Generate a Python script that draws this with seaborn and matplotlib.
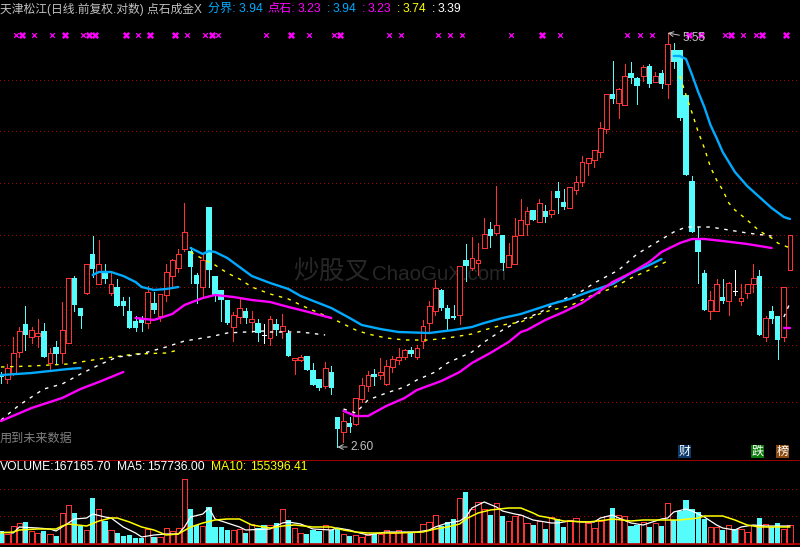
import matplotlib
matplotlib.use("Agg")
import matplotlib.pyplot as plt
from matplotlib.patches import Rectangle
import seaborn as sns
import pandas as pd
import numpy as np

# prices are read as levels on the log panel (no price axis is shown in the chart)
high = [88,96,123,133,154,133,141,137,112,119,158,182,184,152,196,224,220,196,187,181,
        163,163,144,144,174,168,166,196,201,211,257,213,187,207,253,184,170,160,148,162,
        152,149,141,136,144,141,146,130,102,105,104,97,81,98,94,43,47,43,62,82,
        89,91,102,100,104,112,111,113,115,140,159,180,171,155,155,194,216,223,217,242,
        238,274,225,217,242,261,253,250,261,255,269,278,271,273,284,304,302,310,338,366,
        399,372,396,398,383,395,396,388,390,427,417,410,365,284,233,190,169,181,181,178,
        190,176,176,196,190,144,154,144,173,225]
body_top = [85,92,107,129,136,130,127,129,107,113,130,182,182,152,196,206,196,187,176,173,
            159,149,139,141,168,157,166,188,200,206,228,209,185,200,253,184,170,160,145,152,
            149,141,137,125,141,136,134,127,102,103,104,90,81,92,88,43,39,37,62,75,
            85,86,88,94,101,103,110,110,112,134,154,172,170,152,144,194,200,202,200,226,
            231,235,225,205,224,240,249,250,257,249,250,269,258,273,278,298,302,310,332,366,
            366,371,384,387,382,393,394,384,387,416,410,410,365,279,220,187,160,176,163,177,
            169,162,176,182,184,142,149,144,173,225]
body_bottom = [83,81,86,108,125,123,124,103,97,106,107,117,155,144,167,191,176,181,167,154,
               154,132,132,137,137,150,144,165,184,192,211,193,176,173,190,165,160,137,133,143,
               142,138,127,125,122,130,129,104,100,100,90,75,72,74,72,31,28,33,36,61,
               74,83,85,76,93,100,103,106,103,119,137,149,152,141,142,145,194,192,197,212,
               224,227,197,193,196,225,236,240,238,243,246,262,253,252,270,278,297,300,308,331,
               361,357,355,382,374,384,376,378,376,376,398,342,285,228,208,150,149,149,159,159,
               169,159,167,176,125,123,141,120,123,190]
low = [77,77,85,103,110,117,113,103,90,97,97,117,149,132,166,183,176,177,165,154,
       145,132,129,129,132,147,139,159,172,188,209,177,157,163,173,159,139,136,119,137,
       137,128,119,117,115,125,122,104,86,99,90,75,70,72,66,13,18,28,35,58,
       69,75,81,75,88,96,101,104,101,112,129,145,150,131,141,136,179,190,185,212,
       213,225,190,193,196,225,225,240,238,238,243,247,251,252,266,274,285,293,303,327,
       357,342,355,377,356,379,373,378,372,362,392,340,285,228,177,150,141,149,157,145,
       165,155,162,168,125,119,137,101,119,190]
candle_kind = [
    'c','r','r','r','c','r','r','c','r','c','r','r','c','c','r','c','r','c','r','c',
    'c','c','c','c','r','c','r','r','r','r','r','c','c','r','c','c','c','c','r','r',
    'c','r','c','w','r','c','r','c','r','r','c','c','c','r','c','c','r','c','r','r',
    'r','c','r','r','r','r','r','c','r','r','r','r','c','c','c','r','c','r','r','r',
    'c','r','c','r','r','r','r','c','r','c','r','c','c','r','r','r','r','r','r','r',
    'c','r','r','c','c','r','c','r','c','r','c','c','c','c','c','c','r','r','c','r',
    'w','r','r','r','c','r','c','c','r','r']

volume = [13,10,18,21,22,13,11,13,10,8,31,39,31,18,14,46,35,23,14,11,
          8,9,6,6,15,7,7,16,13,16,65,35,19,18,37,17,17,14,14,15,
          11,20,16,19,19,21,35,24,16,11,10,14,13,19,14,16,10,8,9,7,
          9,10,10,14,11,14,12,12,12,20,22,29,18,22,25,46,52,35,42,35,
          29,41,28,23,28,29,21,19,23,15,27,25,17,24,26,23,21,16,23,28,
          36,29,28,18,19,22,17,21,18,41,24,33,44,35,32,25,17,17,14,19,
          15,15,12,19,26,20,17,21,15,19]

blue_a_i, blue_a = [0,5,11,13], [85,87,91,92]
blue_b_i = [15,16,18,20,22,23,25,27,29]
blue_b = [185,188,188,184,178,173,170,171,173]
blue_c_i = [31,33,34,35,37,39,41,44,47,49,54,57,59,62,65,70,74,77,79,82,85,88,90,93,96,100,103,106,108]
blue_c = [212,206,209,208,202,193,184,177,171,164,152,142,135,131,128,127,130,133,137,142,146,152,156,161,168,176,187,195,201]
blue_d_i = [110,111,112,113,114,115,116,117,118,119,120,122,124,126,128,129]
blue_d = [404,404,401,385,368,353,335,322,308,298,288,274,263,252,243,241]

yellow_a_i, yellow_a = [0,5,11,16,22,27,29], [93,94,96,101,106,107,110]
yellow_b_i = [31,33,35,37,39,41,44,47,49,52,55,58,60,63,66,70,73,77,79,82,85,88,90,93,96,100,103,106,109]
yellow_b = [208,201,195,187,181,173,166,161,155,147,139,130,126,122,120,120,122,126,130,135,138,146,150,154,163,172,182,190,199]
yellow_c_i = [111,112,113,114,115,116,117,118,119,120,122,124,126,127,129]
yellow_c = [384,365,347,328,312,293,280,270,257,250,240,229,222,217,212]

white_a_i = [0,3,7,10,13,16,19,22,24,27,30,34,37,40,43,44,49,53]
white_a = [40,55,71,76,86,95,103,105,108,113,119,123,127,128,129,128,128,125]
white_b_i = [56,58,60,63,66,68,71,73,77,79,82,85,88,91,95,97,101,104,107,110,112,116,119,122,126]
white_b = [51,47,60,67,73,80,88,97,108,118,130,140,147,158,169,177,190,206,217,228,233,233,230,227,224]
white_c_i, white_c = [128,129], [143,157]

magenta_a_i, magenta_a = [0,5,10,13,16,20], [39,52,62,71,78,88]
magenta_b_i = [22,25,28,30,33,35,38,41,44,47,49,54]
magenta_b = [142,140,146,155,162,165,163,160,158,153,150,142]
magenta_c_i = [56,58,60,63,66,68,72,75,77,80,83,85,86,89,92,95,97,100,103,106,108,111,113,115,118,122,126]
magenta_c = [49,44,44,54,62,70,79,88,97,107,118,128,130,140,148,157,165,178,187,198,208,217,221,221,219,216,212]
magenta_d_i, magenta_d = [128,129], [132,132]

ma5_i = [0,2,3,6,8,9,11,12,14,15,17,18,20,22,23,25,27,29,30,31,33,34,35,37,39,40,44,46,47,49,51,54,55,57,58,60,63,68,70,71,73,75,76,77,79,81,82,84,85,87,88,
         90,91,93,95,97,98,100,101,103,105,108,109,110,112,113,115,117,118,120,121,123,125,129]
ma5 = [12,11,17,16,15,13,21,25,26,30,27,26,17,11,7,9,10,10,17,27,30,36,25,21,17,14,15,21,22,20,15,14,16,14,12,9,12,12,14,17,21,23,27,36,42,37,33,30,29,24,23,
       21,21,23,22,22,26,29,26,21,19,25,26,32,35,33,27,19,16,14,17,19,18,18]
ma10_i = [0,2,3,6,9,10,11,14,16,18,19,21,23,25,27,29,31,33,35,37,39,41,44,46,48,51,54,56,58,60,65,69,71,73,75,76,78,80,83,85,87,88,
          89,92,96,99,100,103,105,108,109,111,114,115,118,120,122,124,129]
ma10 = [11,12,14,15,15,18,20,18,23,26,26,22,17,14,9,10,17,21,24,25,25,19,16,18,19,17,17,14,12,11,11,12,15,17,20,25,31,34,36,36,31,28,
        27,23,22,24,25,23,24,24,24,24,26,28,28,24,19,17,17]

signal_small = [2,5,8,13,22,30,33,35,43,50,54,63,65,71,73,75,83,91,102,104,106,118,121,123]
signal_big = [3,10,14,15,20,24,28,34,47,55,88,112,114,119,124,128]
signal_level = 425

grid_main = [380,329,277,225,173,115,58]
grid_vol = [55,28]

CYAN = '#54fcfc'
RED = '#ff3232'
BLUE = '#00aaff'
MAGENTA = '#ff00ff'
GREY = '#c0c0c0'
PX = 0.72

sns.set_theme(style="dark", rc={
    "axes.facecolor": "black", "figure.facecolor": "black", "savefig.facecolor": "black",
    "axes.edgecolor": "black", "axes.grid": False,
})
plt.rcParams['font.family'] = ['Liberation Sans', 'Noto Sans CJK SC', 'DejaVu Sans']

fig = plt.figure(figsize=(8, 5.47), dpi=100)
ax = fig.add_axes([0, 87 / 547, 1, 460 / 547])
vax = fig.add_axes([0, 0, 1, 87 / 547])

candles = pd.DataFrame({'i': np.arange(len(high)), 'high': high, 'top': body_top,
                        'bottom': body_bottom, 'low': low, 'kind': candle_kind})
volumes = pd.DataFrame({'i': np.arange(len(volume)), 'vol': volume, 'kind': candle_kind})

for level in grid_main:
    ax.axhline(level, color='#a00000', lw=PX, ls=(0, (1, 3)), antialiased=False, zorder=1)
for level in grid_vol:
    vax.axhline(level, color='#a00000', lw=PX, ls=(0, (1, 3)), antialiased=False, zorder=1)

# watermark sits behind the candles
ax.text(293 / 800, 1 - 273 / 547, "炒股叉", transform=fig.transFigure, color='#272727',
        fontsize=18.5, va='center', ha='left', zorder=0.5)
ax.text(372 / 800, 1 - 274 / 547, "ChaoGuX.com", transform=fig.transFigure, color='#272727',
        fontsize=14.8, va='center', ha='left', zorder=0.5)

# candles
for kind, color in [('c', CYAN), ('r', RED)]:
    sub = candles[candles['kind'] == kind]
    ax.vlines(sub['i'], sub['low'], sub['high'], color=color, lw=PX, antialiased=False, zorder=2)
    if kind == 'c':
        ax.bar(sub['i'], sub['top'] - sub['bottom'], bottom=sub['bottom'], width=0.9,
               color=color, linewidth=0, antialiased=False, zorder=3)
    else:
        ax.bar(sub['i'], sub['top'] - sub['bottom'], bottom=sub['bottom'], width=0.78,
               facecolor='black', edgecolor=color, linewidth=PX, antialiased=False, zorder=3)
doji = candles[candles['kind'] == 'w']
ax.vlines(doji['i'], doji['low'], doji['high'], color='white', lw=PX, antialiased=False, zorder=3)
ax.hlines(doji['top'], doji['i'] - 0.35, doji['i'] + 0.35, color='white', lw=PX, antialiased=False, zorder=3)

# moving average pieces
solid = dict(ax=ax, errorbar=None, legend=False, zorder=5, lw=1.7)
for xs, ys in [(blue_a_i, blue_a), (blue_b_i, blue_b), (blue_c_i, blue_c), (blue_d_i, blue_d)]:
    sns.lineplot(x=xs, y=ys, color=BLUE, **solid)
for xs, ys in [(magenta_a_i, magenta_a), (magenta_b_i, magenta_b), (magenta_c_i, magenta_c), (magenta_d_i, magenta_d)]:
    sns.lineplot(x=xs, y=ys, color=MAGENTA, **solid)
for xs, ys in [(yellow_a_i, yellow_a), (yellow_b_i, yellow_b), (yellow_c_i, yellow_c)]:
    sns.lineplot(x=xs, y=ys, color='#ffff00', ax=ax, errorbar=None, legend=False, zorder=4,
                 lw=1.0, linestyle=(0, (2.5, 4)))
for xs, ys in [(white_a_i, white_a), (white_b_i, white_b), (white_c_i, white_c)]:
    sns.lineplot(x=xs, y=ys, color='white', ax=ax, errorbar=None, legend=False, zorder=4,
                 lw=1.0, linestyle=(0, (2.5, 4)))

# signal row, glyphs sit a little right of their candle
sns.scatterplot(x=np.array(signal_small) + 0.4, y=[signal_level] * len(signal_small), ax=ax,
                marker='x', s=11, color=MAGENTA, linewidth=0.9, legend=False, zorder=6)
sns.scatterplot(x=np.array(signal_big) + 0.42, y=[signal_level] * len(signal_big), ax=ax,
                marker='X', s=26, color=MAGENTA, linewidth=0, legend=False, zorder=6)

ax.annotate("2.60", xy=(55, 13), xytext=(13, 0), textcoords='offset pixels', color=GREY,
            fontsize=8.6, va='center', ha='left', zorder=7,
            arrowprops=dict(arrowstyle='->', color=GREY, lw=PX, shrinkA=0, shrinkB=0))
ax.annotate("5.55", xy=(109, 427), xytext=(15, -5), textcoords='offset pixels', color=GREY,
            fontsize=8.6, va='center', ha='left', zorder=7,
            arrowprops=dict(arrowstyle='->', color=GREY, lw=PX, shrinkA=0, shrinkB=0))

# volume panel: all bars in one call so seaborn keeps one slot per candle
sns.barplot(data=volumes, x='i', y='vol', hue='kind', hue_order=['c', 'w', 'r'],
            palette={'c': CYAN, 'w': CYAN, 'r': RED}, native_scale=True, dodge=False,
            width=0.86, saturation=1, linewidth=0, errorbar=None, legend=False, ax=vax, zorder=2)
for container, kind in zip(vax.containers, ['c', 'w', 'r']):
    for bar in container:
        bar.set_antialiased(False)
        if kind == 'r':
            bar.set_facecolor('black')
            bar.set_edgecolor(RED)
            bar.set_linewidth(PX)
sns.lineplot(x=ma5_i, y=ma5, color='white', ax=vax, errorbar=None, legend=False, lw=0.9, zorder=4)
sns.lineplot(x=ma10_i, y=ma10, color='#ffff00', ax=vax, errorbar=None, legend=False, lw=1.1, zorder=4)
vax.axhline(0, color='#c00000', lw=1.2, zorder=3)
vax.axhline(84, color='#a00000', lw=1.4, zorder=3)

for a in (ax, vax):
    a.set_xlim(-1 / 6.116, 799 / 6.116)
    a.set_xticks([])
    a.set_yticks([])
    a.set_xlabel("")
    a.set_ylabel("")
ax.set_ylim(0, 460)
vax.set_ylim(-3, 84)
sns.despine(fig=fig, left=True, bottom=True, right=True, top=True)


def label(x, y, s, color, size=8.7, **kw):
    fig.text(x / 800, 1 - y / 547, s, color=color, fontsize=size, va='center', ha='left', **kw)


label(0, 9, "天津松江(日线.前复权.对数) 点石成金X", GREY, size=8.5)
label(208, 9, "分界: 3.94", BLUE)
label(267, 9, "点石:", MAGENTA)
label(298, 9, "3.23", MAGENTA)
label(327, 9, ":", BLUE)
label(333, 9, "3.94", BLUE)
label(362, 9, ":", MAGENTA)
label(368, 9, "3.23", MAGENTA)
label(397, 9, ":", '#ffff00')
label(403, 9, "3.74", '#ffff00')
label(432, 9, ":", 'white')
label(438, 9, "3.39", 'white')
label(0, 439, "用到未来数据", '#808080')
label(0, 467, "VOLUME:", 'white')
label(53, 467, "167165.70", 'white')
label(117, 467, "MA5:", 'white')
label(147, 467, "157736.00", 'white')
label(211, 467, "MA10:", '#ffff00')
label(250, 467, "155396.41", '#ffff00')

for x0, ch, bg in [(678, "财", '#0b3a6b'), (751, "跌", '#0a7a0a'), (776, "榜", '#8a4a10')]:
    fig.add_artist(Rectangle((x0 / 800, 1 - 458 / 547), 13 / 800, 13 / 547, color=bg,
                             transform=fig.transFigure, linewidth=0))
    label(x0 + 0.5, 451.5, ch, 'white')

fig.savefig("out.png", dpi=100)
